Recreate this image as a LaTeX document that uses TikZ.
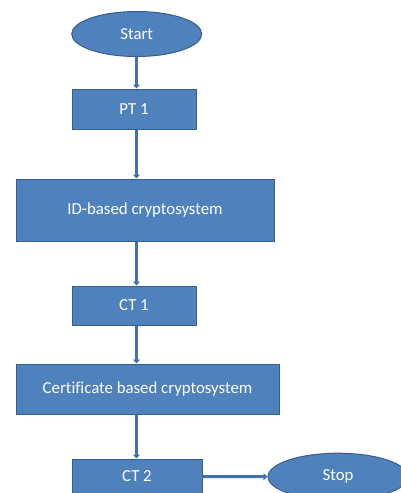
\documentclass[tikz,border=0pt]{standalone}
\usepackage{fontspec}
\setmainfont{Carlito}[Ligatures=NoCommon]
\usetikzlibrary{shapes.geometric,arrows.meta}
\definecolor{boxfill}{RGB}{79,129,189}
\definecolor{boxdraw}{RGB}{56,93,138}
\definecolor{arrowc}{RGB}{66,113,172}
\tikzset{
  box/.style={draw=boxdraw,fill=boxfill,line width=1pt,text=white,inner sep=0pt,font=\fontsize{16.8}{20}\selectfont},
  term/.style={ellipse,draw=boxdraw,fill=boxfill,line width=1pt,text=white,inner sep=0pt,font=\fontsize{16.8}{20}\selectfont},
  conn/.style={draw=arrowc,line width=3pt,-{Triangle[width=7pt,length=4pt]}}
}
\begin{document}
\begin{tikzpicture}[x=1pt,y=-1pt]
\clip (0,0) rectangle (401,493);
\useasboundingbox (0,0) rectangle (401,493);
\coordinate (axis) at (136.5,0);
\node[term,minimum width=130,minimum height=45] (start) at (136.7,34) {Start};
\node[box,minimum width=124,minimum height=40] (pt1) at (134,109) {PT 1};
\node[box,minimum width=258,minimum height=62] (id) at (145,210) {ID-based cryptosystem};
\node[box,minimum width=124,minimum height=39] (ct1) at (134,305.5) {CT 1};
\node[box,minimum width=263,minimum height=50] (cert) at (147.5,389) {Certificate based cryptosystem};
\node[box,minimum width=130,minimum height=35] (ct2) at (137,476.5) {CT 2};
\node[term,minimum width=140,minimum height=47] (stop) at (338,476.7) {Stop};
\draw[conn] (axis |- start.south) -- (axis |- pt1.north);
\draw[conn] (axis |- pt1.south) -- (axis |- id.north);
\draw[conn] (axis |- id.south) -- (axis |- ct1.north);
\draw[conn] (axis |- ct1.south) -- (axis |- cert.north);
\draw[conn] (axis |- cert.south) -- (axis |- ct2.north);
\draw[conn] (ct2.east) -- (stop.west);
\end{tikzpicture}
\end{document}
